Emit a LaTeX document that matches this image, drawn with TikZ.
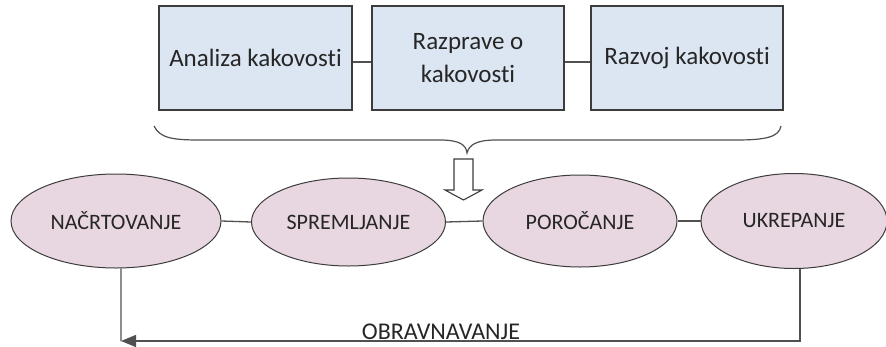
\documentclass[tikz,border=0pt]{standalone}
\usepackage{fontspec}
\setmainfont{Carlito}[Ligatures=NoCommon]
\usetikzlibrary{arrows.meta,shapes.geometric}
\definecolor{boxfill}{HTML}{DCE6F2}
\definecolor{ellfill}{HTML}{E8D6E0}
\definecolor{edge}{HTML}{3C3C3C}
\definecolor{txt}{HTML}{262626}
\definecolor{conn}{HTML}{505050}
\tikzset{
  qbox/.style={draw=edge,fill=boxfill,line width=1.2pt,minimum width=193pt,minimum height=104pt,
    inner sep=0pt,text=txt,align=center,font=\fontsize{25}{33}\selectfont},
  qell/.style={ellipse,draw=edge,fill=ellfill,line width=1pt,inner sep=0pt,text=txt,
    font=\fontsize{22}{26}\selectfont},
  link/.style={draw=conn,line width=1.3pt},
}
\begin{document}
\begin{tikzpicture}[x=1pt,y=-1pt]
\useasboundingbox (0,0) rectangle (886,346);
% top boxes
\node[qbox] (b1) at (255.5,58) {Analiza kakovosti};
\node[qbox,minimum width=192pt] (b2) at (468,58) {Razprave o\\kakovosti};
\node[qbox,minimum width=192pt] (b3) at (687,58) {Razvoj kakovosti};
\draw[link] ([yshift=-4pt]b1.east) -- ([yshift=-4pt]b2.west);
\draw[link] ([yshift=-4pt]b2.east) -- ([yshift=-4pt]b3.west);
% brace
\draw[draw=conn,line width=1.2pt] (154,126) .. controls (160,138) and (172,140) .. (200,140)
  -- (440,140) .. controls (460,140) and (466,145) .. (467,153)
  .. controls (469,145) and (476,140) .. (496,140)
  -- (736,140) .. controls (766,140) and (779,137) .. (781,126);
% hollow arrow
\node[coordinate] (harrow) at (463.5,200) {};
\draw[draw=edge,fill=white,line width=1.1pt] (454,159) -- (473,159) -- (473,190) -- (482,190)
  -- (harrow) -- (445,190) -- (454,190) -- cycle;
% ellipses
\node[qell,minimum width=210pt,minimum height=94pt] (e1) at (116,221) {NAČRTOVANJE};
\node[qell,minimum width=194pt,minimum height=88pt] (e2) at (348.5,222) {SPREMLJANJE};
\node[qell,minimum width=194pt,minimum height=92pt] (e3) at (580,221) {POROČANJE};
\node[qell,minimum width=186pt,minimum height=95pt] (e4) at (794,221) {UKREPANJE};
\draw[link] (e1.east) -- (e2.west);
\draw[link] (e2.east) -- (e3.west);
\draw[link] (e3.east) -- (e4.west);
% feedback loop
\coordinate (c1) at (121,341);
\draw[link] (e1.-84) -- (c1);
\draw[link,-{Triangle[length=15pt,width=12pt]}] (e4.-83) |- (c1);
\node[text=txt,font=\fontsize{24}{26}\selectfont,anchor=base] (lbl) at (441,339) {OBRAVNAVANJE};
\end{tikzpicture}
\end{document}
